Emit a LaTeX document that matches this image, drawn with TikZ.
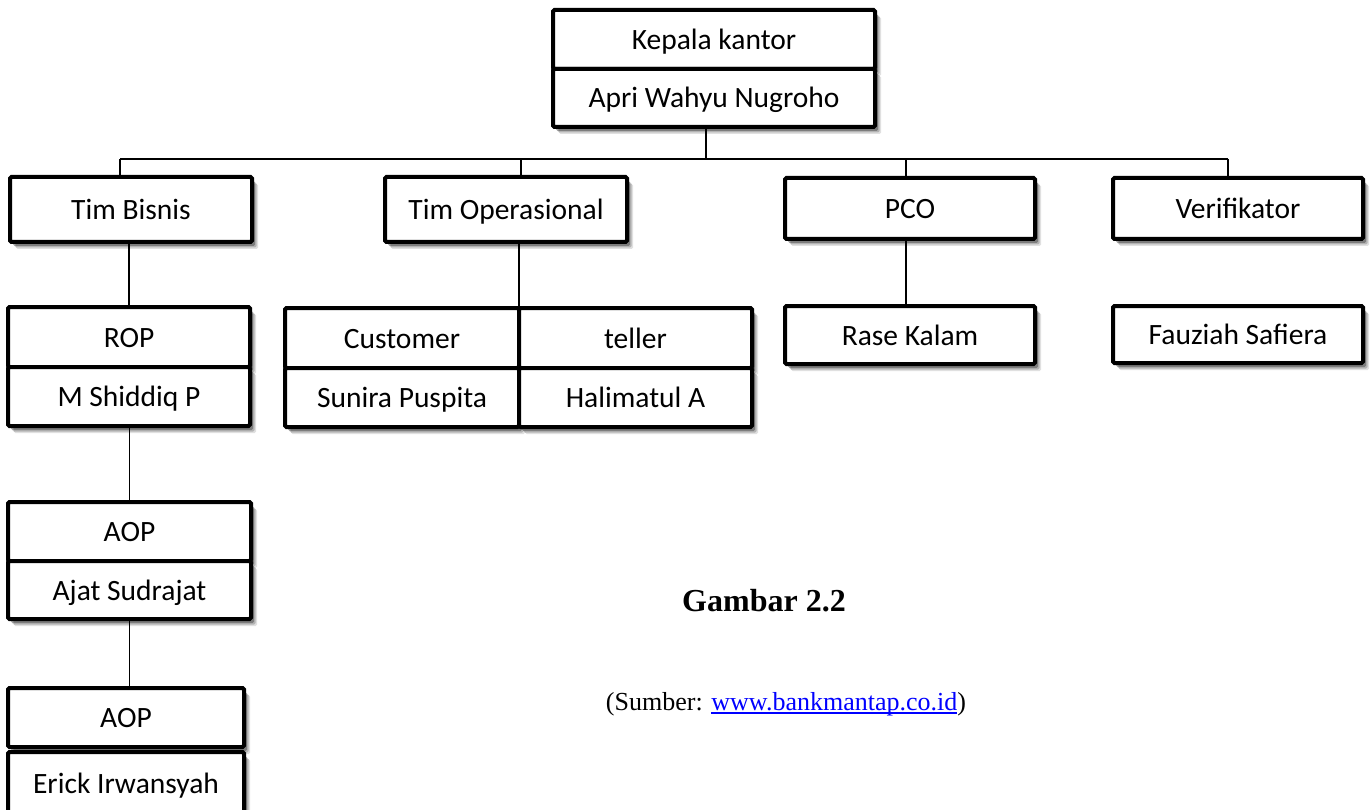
\documentclass[tikz,border=0pt]{standalone}
\usepackage{fontspec}
\setmainfont{Liberation Serif}
\newfontfamily\calfont{Carlito}
\usetikzlibrary{shadows}
\newcommand\ulinkbox[1]{\setbox0\hbox{#1}\rlap{\rule[-4pt]{\wd0}{1.6pt}}\box0}
\begin{document}
\begin{tikzpicture}[x=1pt,y=-1pt,
  cell/.style={draw=black, line width=4pt, rounded corners=1.5pt, fill=white,
    inner sep=0pt, outer sep=0pt, font=\calfont\fontsize{29.5}{34}\selectfont,
    text height=20pt, text depth=0pt,
    drop shadow={shadow xshift=6pt, shadow yshift=-7pt, opacity=0.12, fill=black},
    drop shadow={shadow xshift=4.5pt, shadow yshift=-5.5pt, opacity=0.2, fill=black},
    drop shadow={shadow xshift=3pt, shadow yshift=-4pt, opacity=0.3, fill=black}},
  conn/.style={line width=1.8pt, draw=black}]
\useasboundingbox (0,0) rectangle (1372,810);

% top
\node[cell, minimum width=322pt, minimum height=59pt] (kk) at (714,39.5) {Kepala kantor};
\node[cell, minimum width=322pt, minimum height=58pt] (apri) at (714,98) {Apri Wahyu Nugroho};

% second row
\node[cell, minimum width=242pt, minimum height=65pt] (tb) at (131,209.5) {Tim Bisnis};
\node[cell, minimum width=242pt, minimum height=65pt] (to) at (506,209.5) {Tim Operasional};
\node[cell, minimum width=250pt, minimum height=61pt] (pco) at (910,208.5) {PCO};
\node[cell, minimum width=250pt, minimum height=61pt] (ver) at (1238,208.5) {Verifikator};

% third row
\node[cell, minimum width=242pt, minimum height=60pt] (rop) at (129,337) {ROP};
\node[cell, minimum width=242pt, minimum height=59pt] (shid) at (129,396.5) {M Shiddiq P};
\node[cell, minimum width=234pt, minimum height=60pt] (cust) at (402,338) {Customer};
\node[cell, minimum width=233pt, minimum height=60pt] (tel) at (635.5,338) {teller};
\node[cell, minimum width=234pt, minimum height=59pt] (sun) at (402,397.5) {Sunira Puspita};
\node[cell, minimum width=233pt, minimum height=59pt] (hal) at (635.5,397.5) {Halimatul A};
\node[cell, minimum width=250pt, minimum height=58pt] (rase) at (910,335) {Rase Kalam};
\node[cell, minimum width=250pt, minimum height=57pt] (fau) at (1238,334.5) {Fauziah Safiera};

% AOP chain
\node[cell, minimum width=243pt, minimum height=59pt] (aop1) at (129.5,531.5) {AOP};
\node[cell, minimum width=243pt, minimum height=58pt] (ajat) at (129.5,590) {Ajat Sudrajat};
\node[cell, minimum width=236pt, minimum height=59pt] (aop2) at (126,717.5) {AOP};
\node[cell, minimum width=236pt, minimum height=62pt] (erick) at (126,783) {Erick Irwansyah};

% connectors
\coordinate (bl) at (120,159);
\coordinate (bo) at (521,159);
\coordinate (bp) at (906,159);
\coordinate (br) at (1228,159);
\draw[conn] ([xshift=-8pt]apri.south) -- ([xshift=-8pt]apri.south |- bl);
\draw[conn] (bl) -- (br);
\draw[conn] (bl) -- (bl |- tb.north);
\draw[conn] (bo) -- (bo |- to.north);
\draw[conn] (bp) -- (bp |- pco.north);
\draw[conn] (br) -- (br |- ver.north);
\draw[conn] (rop.north |- tb.south) -- (rop.north);
\draw[conn] (to.south -| tel.north west) -- (tel.north west);
\draw[conn] (pco.south -| bp) -- (rase.north -| bp);
\draw[conn] (aop1.north |- shid.south) -- (aop1.north);
\draw[conn] (ajat.south) -- (ajat.south |- aop2.north);

% caption
\node[font=\bfseries\fontsize{32}{37}\selectfont, anchor=base, inner sep=0pt] (cap) at (764,611) {Gambar 2.2};
\node[font=\fontsize{26}{30}\selectfont, anchor=base, inner sep=0pt] (src) at (786,710) {(Sumber: {\color{blue}\ulinkbox{www.bankmantap.co.id}})};
\end{tikzpicture}
\end{document}
